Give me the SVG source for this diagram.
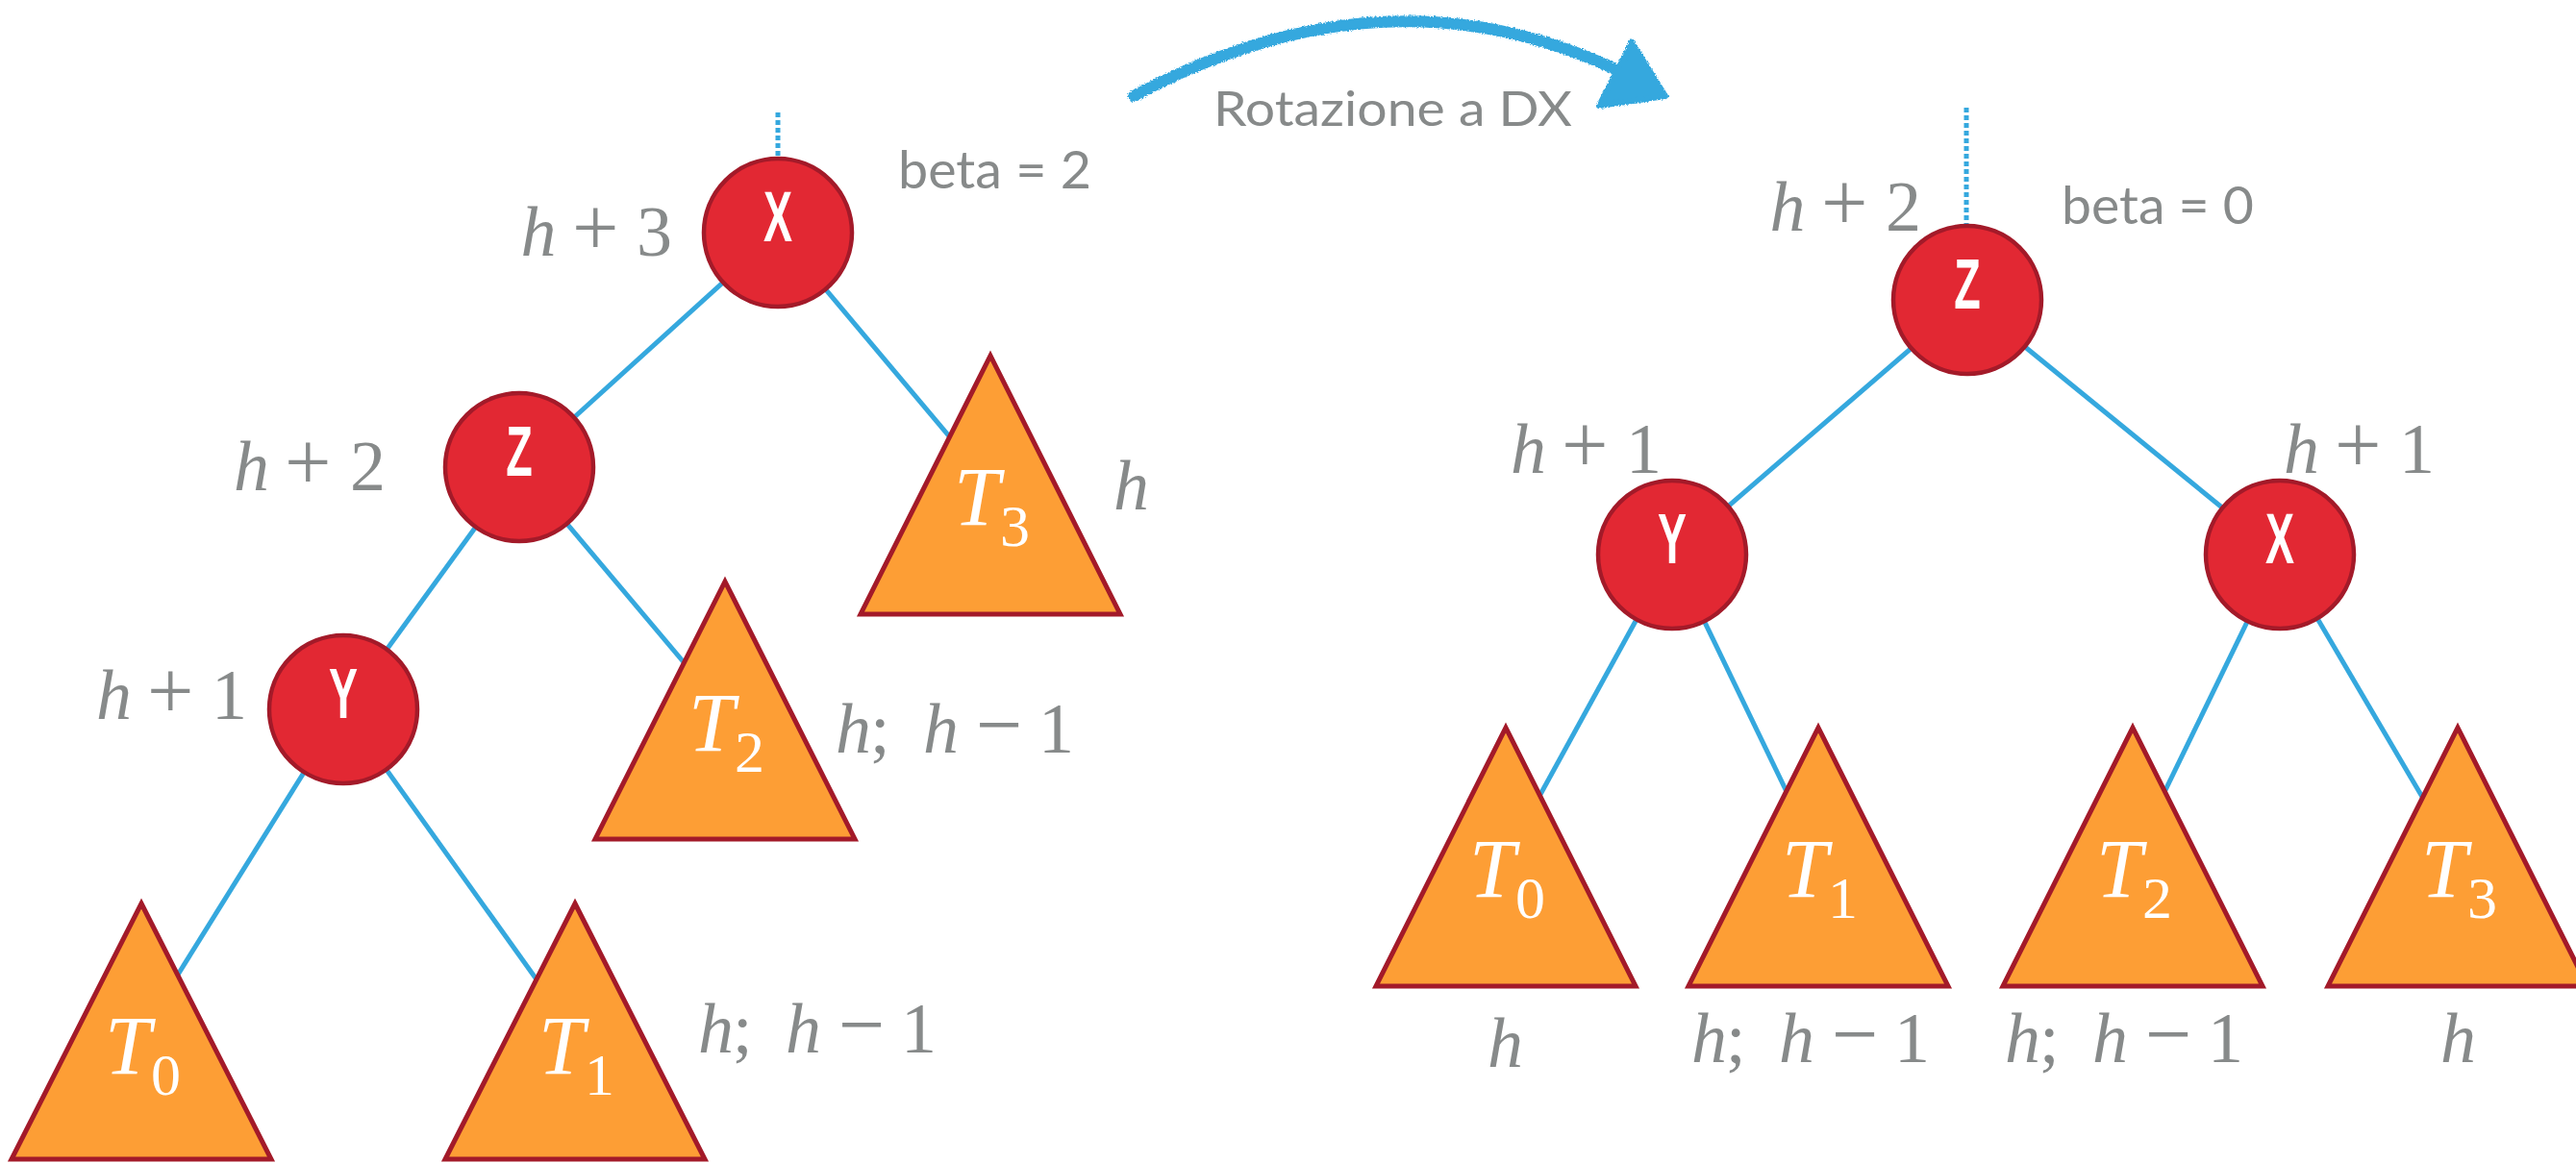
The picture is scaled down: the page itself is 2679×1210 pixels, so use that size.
<svg xmlns="http://www.w3.org/2000/svg" width="2679" height="1210" viewBox="0 0 2679 1210">
<style>
.edge{stroke:#35a8de;stroke-width:5;fill:none}
.dot{stroke:#35a8de;stroke-width:5;stroke-dasharray:5 3;fill:none}
.node{fill:#e22833;stroke:#a31a29;stroke-width:4.5}
.tri{fill:#fd9e35;stroke:#a31a29;stroke-width:5;stroke-linejoin:miter}
.lbl{font-family:"Liberation Sans",sans-serif;font-weight:bold;font-size:75px;fill:#fff;text-anchor:middle}
.m{font-family:"Liberation Serif",serif;font-size:74px;fill:#878a8a}
.i{font-style:italic}
.op{font-size:86px}
.t{font-family:"Liberation Serif",serif;font-size:86px;fill:#fff;font-style:italic}
.sub{font-size:62px;font-style:normal}
.s{font-family:Lato,"Liberation Sans",sans-serif;fill:#878a8a}
</style>
<defs>
<filter id="rough" x="-5%" y="-30%" width="110%" height="160%">
<feTurbulence type="fractalNoise" baseFrequency="0.6" numOctaves="2" seed="3" result="n"/>
<feDisplacementMap in="SourceGraphic" in2="n" scale="4" xChannelSelector="R" yChannelSelector="G"/>
</filter>
</defs>

<g id="connectors">
<line class="dot" x1="809" y1="117" x2="809" y2="164"/>
<line class="edge" x1="809" y1="242" x2="540" y2="486"/>
<line class="edge" x1="809" y1="242" x2="1030" y2="505"/>
<line class="edge" x1="540" y1="486" x2="357" y2="738"/>
<line class="edge" x1="540" y1="486" x2="754" y2="740"/>
<line class="edge" x1="357" y1="738" x2="147" y2="1075"/>
<line class="edge" x1="357" y1="738" x2="598" y2="1075"/>

<line class="dot" x1="2045" y1="112" x2="2045" y2="234"/>
<line class="edge" x1="2046" y1="312" x2="1739" y2="577"/>
<line class="edge" x1="2046" y1="312" x2="2371" y2="577"/>
<line class="edge" x1="1739" y1="577" x2="1566" y2="892"/>
<line class="edge" x1="1739" y1="577" x2="1891" y2="892"/>
<line class="edge" x1="2371" y1="577" x2="2218" y2="892"/>
<line class="edge" x1="2371" y1="577" x2="2556" y2="892"/>
</g>

<g id="rotation" filter="url(#rough)">
<path d="M1179 100 Q1440 -40 1680 72" stroke="#35a8de" stroke-width="12" fill="none" stroke-linecap="round"/>
<polygon points="1697,44 1663,110 1732,100" fill="#35a8de" stroke="#35a8de" stroke-width="6" stroke-linejoin="round"/>
</g>
<text id="rotation-label" class="s" x="1262" y="131" font-size="51" textLength="373" lengthAdjust="spacingAndGlyphs">Rotazione a DX</text>

<!-- Left tree -->
<g id="L-X">
<circle class="node" cx="809" cy="242" r="77"/>
<text class="lbl" transform="translate(809 251) scale(0.6 1)">X</text>
<text class="m" x="541.6" y="266"><tspan class="i">h</tspan><tspan class="op" x="595">+</tspan><tspan x="662">3</tspan></text>
<text class="s" x="934" y="196" font-size="54" textLength="201" lengthAdjust="spacingAndGlyphs">beta = 2</text>
</g>
<g id="L-Z">
<circle class="node" cx="540" cy="486" r="77"/>
<text class="lbl" transform="translate(540 495) scale(0.6 1)">Z</text>
<text class="m" x="243" y="510"><tspan class="i">h</tspan><tspan class="op" x="296">+</tspan><tspan x="364">2</tspan></text>
</g>
<g id="L-Y">
<circle class="node" cx="357" cy="738" r="77"/>
<text class="lbl" transform="translate(357 747) scale(0.6 1)">Y</text>
<text class="m" x="100" y="748"><tspan class="i">h</tspan><tspan class="op" x="153">+</tspan><tspan x="220">1</tspan></text>
</g>
<g id="L-T0">
<polygon class="tri" points="147,940 282,1206 12,1206"/>
<text class="t" x="109" y="1117">T<tspan class="sub" x="157" y="1139">0</tspan></text>
</g>
<g id="L-T1">
<polygon class="tri" points="598,940 733,1206 463,1206"/>
<text class="t" x="560" y="1117">T<tspan class="sub" x="608" y="1139">1</tspan></text>
<text class="m" y="1095"><tspan class="i" x="726">h</tspan><tspan x="762">;</tspan><tspan class="i" x="817">h</tspan><tspan class="op" x="872">−</tspan><tspan x="937">1</tspan></text>
</g>
<g id="L-T2">
<polygon class="tri" points="754,605 889,873 619,873"/>
<text class="t" x="716" y="781">T<tspan class="sub" x="764" y="803">2</tspan></text>
<text class="m" y="783"><tspan class="i" x="869">h</tspan><tspan x="905">;</tspan><tspan class="i" x="960">h</tspan><tspan class="op" x="1015">−</tspan><tspan x="1080">1</tspan></text>
</g>
<g id="L-T3">
<polygon class="tri" points="1030,370 1165,639 895,639"/>
<text class="t" x="992" y="546">T<tspan class="sub" x="1040" y="568">3</tspan></text>
<text class="m i" x="1158" y="530">h</text>
</g>

<!-- Right tree -->
<g id="R-Z">
<circle class="node" cx="2046" cy="312" r="77"/>
<text class="lbl" transform="translate(2046 321) scale(0.6 1)">Z</text>
<text class="m" x="1840.5" y="240"><tspan class="i">h</tspan><tspan class="op" x="1894">+</tspan><tspan x="1961">2</tspan></text>
<text class="s" x="2144" y="233" font-size="54" textLength="200" lengthAdjust="spacingAndGlyphs">beta = 0</text>
</g>
<g id="R-Y">
<circle class="node" cx="1739" cy="577" r="77"/>
<text class="lbl" transform="translate(1739 586) scale(0.6 1)">Y</text>
<text class="m" x="1571" y="492"><tspan class="i">h</tspan><tspan class="op" x="1624">+</tspan><tspan x="1691">1</tspan></text>
</g>
<g id="R-X">
<circle class="node" cx="2371" cy="577" r="77"/>
<text class="lbl" transform="translate(2371 586) scale(0.6 1)">X</text>
<text class="m" x="2375" y="492"><tspan class="i">h</tspan><tspan class="op" x="2428">+</tspan><tspan x="2495">1</tspan></text>
</g>
<g id="R-T0">
<polygon class="tri" points="1566,757 1701,1026 1431,1026"/>
<text class="t" x="1528" y="933">T<tspan class="sub" x="1576" y="955">0</tspan></text>
<text class="m i" x="1547" y="1110">h</text>
</g>
<g id="R-T1">
<polygon class="tri" points="1891,757 2026,1026 1756,1026"/>
<text class="t" x="1853" y="933">T<tspan class="sub" x="1901" y="955">1</tspan></text>
<text class="m" y="1105"><tspan class="i" x="1759">h</tspan><tspan x="1795">;</tspan><tspan class="i" x="1850">h</tspan><tspan class="op" x="1905">−</tspan><tspan x="1970">1</tspan></text>
</g>
<g id="R-T2">
<polygon class="tri" points="2218,757 2353,1026 2083,1026"/>
<text class="t" x="2180" y="933">T<tspan class="sub" x="2228" y="955">2</tspan></text>
<text class="m" y="1105"><tspan class="i" x="2085">h</tspan><tspan x="2121">;</tspan><tspan class="i" x="2176">h</tspan><tspan class="op" x="2231">−</tspan><tspan x="2296">1</tspan></text>
</g>
<g id="R-T3">
<polygon class="tri" points="2556,757 2691,1026 2421,1026"/>
<text class="t" x="2518" y="933">T<tspan class="sub" x="2566" y="955">3</tspan></text>
<text class="m i" x="2538" y="1105">h</text>
</g>
</svg>
